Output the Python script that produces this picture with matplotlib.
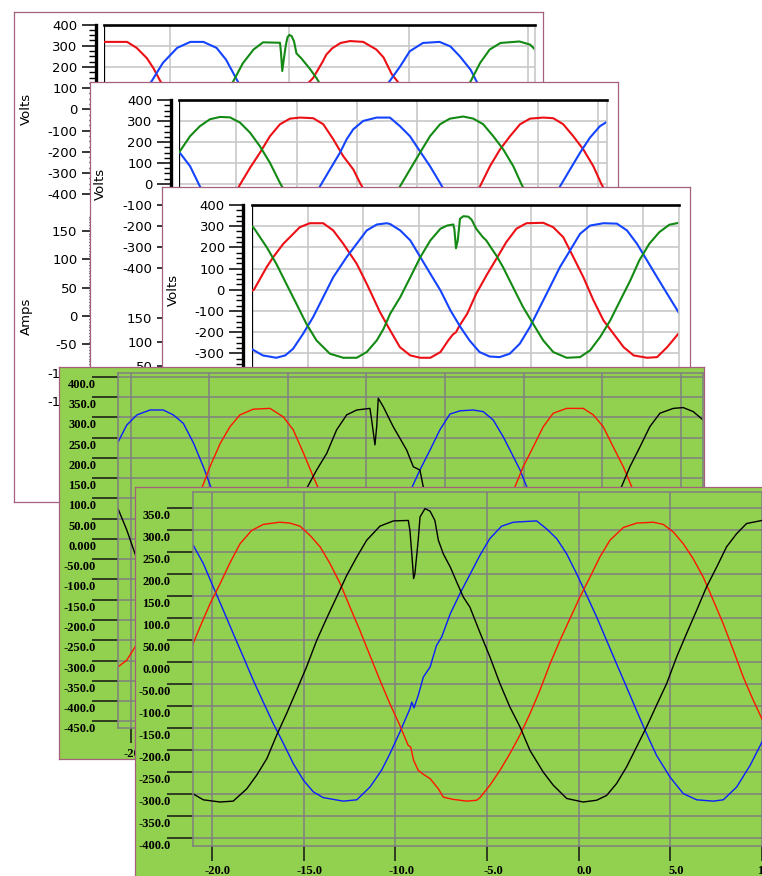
import numpy as np
import matplotlib.pyplot as plt
import matplotlib.transforms as mtransforms
from matplotlib.ticker import MultipleLocator, FuncFormatter

plt.rcParams['axes.unicode_minus'] = False

W, H, DPI = 762, 876, 100

# ---- white recorder windows: (time ms, volts) ----
A_RED = [(4.49, 318), (6.4, 318), (7.2, 290), (8.05, 242), (8.6, 195), (9.2, 132), (10.5, 30),
         (12.0, -90), (13.5, -200), (14.8, -290), (16.0, -318), (17.4, -318), (18.2, -255),
         (19.2, -140), (20.2, 0), (21.0, 85), (21.7, 131), (22.0, 148), (22.8, 225), (23.1, 258),
         (23.6, 288), (24.3, 313), (25.1, 322), (26.2, 318), (27.3, 282), (27.9, 245), (28.6, 165),
         (29.1, 130), (30.0, 45), (31.0, -60), (32.0, -160), (33.0, -250), (34.0, -305),
         (35.5, -320), (37.0, -300), (38.0, -230), (39.0, -140), (40.0, -30), (40.6, 25)]
A_BLUE = [(4.49, -205), (5.5, -129), (6.5, -30), (7.4, 60), (8.45, 132), (9.4, 219), (10.6, 290),
          (11.7, 318), (12.8, 318), (13.9, 290), (14.7, 234), (15.6, 140), (16.5, 50), (17.5, -60),
          (18.5, -160), (19.5, -240), (20.5, -295), (21.5, -318), (22.5, -316), (23.5, -290),
          (24.5, -220), (25.5, -120), (26.5, -20), (27.5, 70), (28.4, 132), (29.3, 203),
          (30.1, 274), (31.2, 313), (32.6, 318), (33.5, 297), (34.3, 250), (35.2, 187),
          (35.7, 132), (36.6, 40), (37.6, -60), (38.6, -160), (39.6, -240), (40.6, -290)]
A_GREEN = [(4.49, -115), (5.8, -239), (7.0, -302), (8.5, -321), (9.8, -310), (11.0, -250),
           (12.0, -170), (13.0, -80), (14.0, 15), (14.6, 75), (15.3, 132), (16.1, 217),
           (17.0, 282), (17.8, 316), (19.22, 314), (19.3, 270), (19.41, 181), (19.55, 240),
           (19.7, 300), (19.85, 340), (20.0, 351), (20.2, 345), (20.4, 320), (20.6, 264),
           (21.0, 241), (21.7, 193), (22.3, 146), (23.2, 60), (24.2, -40), (25.2, -140),
           (26.2, -230), (27.2, -290), (28.2, -318), (29.5, -315), (30.5, -270), (31.5, -190),
           (32.5, -100), (33.5, -20), (34.4, 60), (35.2, 132), (36.0, 219), (36.8, 282),
           (37.7, 313), (39.3, 320), (40.2, 305), (40.6, 282)]

B_RED = [(0.28, -318), (1.5, -310), (2.5, -270), (3.5, -190), (4.4, -100), (5.31, -3), (6.14, 77),
         (6.96, 149), (7.79, 228), (8.62, 285), (9.45, 312), (10.28, 317), (11.38, 314),
         (12.21, 285), (13.04, 213), (13.87, 132), (14.7, 69), (15.25, 5), (16.2, -90),
         (17.2, -190), (18.2, -270), (19.2, -312), (20.3, -322), (21.5, -310), (22.5, -260),
         (23.5, -180), (24.4, -90), (25.19, -12), (26.02, 85), (26.85, 165), (27.68, 228),
         (28.51, 285), (29.34, 312), (30.44, 317), (31.26, 314), (32.09, 285), (32.92, 228),
         (33.75, 165), (34.58, 85), (35.27, -3), (35.69, -45)]
B_BLUE = [(0.28, 152), (1.17, 85), (1.99, -12), (2.9, -100), (3.9, -190), (4.9, -265),
          (5.9, -310), (7.0, -322), (8.2, -310), (9.2, -260), (10.2, -180), (11.1, -95),
          (11.93, -12), (12.76, 69), (13.59, 149), (14.14, 213), (14.69, 261), (15.52, 301),
          (16.63, 317), (17.73, 317), (18.56, 276), (19.39, 228), (20.22, 156), (21.05, 85),
          (21.88, 5), (22.8, -90), (23.8, -190), (24.8, -265), (25.8, -310), (27.0, -322),
          (28.2, -310), (29.2, -260), (30.2, -180), (31.1, -95), (31.82, -12), (32.65, 69),
          (33.48, 149), (34.3, 221), (35.13, 276), (35.69, 296)]
B_GREEN = [(0.28, 152), (1.17, 228), (1.99, 276), (2.82, 309), (3.65, 320), (4.48, 318),
           (5.31, 293), (6.14, 245), (6.96, 180), (7.79, 101), (8.62, 5), (9.5, -85),
           (10.5, -180), (11.5, -260), (12.5, -310), (13.7, -322), (15.0, -310), (16.0, -260),
           (17.0, -170), (18.0, -70), (18.56, -12), (19.39, 69), (20.22, 149), (21.05, 228),
           (21.88, 285), (22.7, 312), (23.8, 322), (24.64, 312), (25.46, 285), (26.29, 228),
           (27.12, 165), (27.95, 85), (28.64, -3), (29.5, -95), (30.5, -190), (31.5, -270),
           (32.5, -312), (33.7, -322), (35.0, -300), (35.69, -265)]

C_RED = [(0.0, -5), (0.2, 0), (1.34, 107), (1.93, 154), (2.83, 217), (3.72, 264), (4.3, 295),
         (5.2, 314), (6.4, 314), (7.3, 280), (8.2, 217), (9.4, 123), (10.3, 28), (11.48, -105),
         (12.4, -192), (13.27, -271), (14.2, -310), (15.1, -321), (16.0, -321), (16.9, -294),
         (17.6, -239), (18.0, -212), (18.3, -200), (18.6, -170), (19.3, -113), (20.1, -19),
         (21.1, 75), (22.0, 154), (22.8, 225), (23.7, 288), (24.6, 314), (26.1, 316), (27.0, 295),
         (27.9, 248), (28.8, 154), (29.7, 59), (30.6, -50), (31.5, -145), (32.4, -208),
         (33.3, -271), (34.2, -310), (35.4, -321), (36.3, -318), (37.2, -271), (38.26, -204)]
C_BLUE = [(0.0, -280), (0.2, -286), (1.0, -310), (2.2, -321), (3.0, -310), (3.7, -279),
          (4.6, -208), (5.5, -129), (6.4, -35), (7.3, 59), (8.5, 154), (9.4, 217), (10.3, 280),
          (11.2, 308), (12.1, 314), (12.4, 310), (13.3, 280), (14.2, 233), (15.1, 154),
          (16.0, 75), (16.9, -3), (17.8, -98), (18.7, -177), (19.5, -239), (20.4, -294),
          (21.3, -315), (22.2, -318), (23.1, -302), (24.0, -255), (24.9, -177), (25.8, -82),
          (26.7, 12), (27.6, 107), (28.5, 185), (29.4, 264), (30.3, 303), (31.5, 314),
          (32.7, 312), (33.6, 280), (34.5, 217), (35.4, 138), (36.3, 59), (37.2, -19),
          (38.26, -110)]
C_GREEN = [(0.0, 300), (0.2, 291), (1.34, 201), (2.2, 123), (3.1, 28), (4.0, -66), (4.9, -161),
           (5.8, -239), (7.0, -302), (8.2, -321), (9.4, -321), (10.3, -294), (11.2, -239),
           (11.8, -185), (12.4, -113), (13.3, -35), (14.2, 59), (15.1, 154), (16.0, 233),
           (16.9, 288), (17.5, 303), (18.05, 308), (18.15, 285), (18.29, 196), (18.45, 233),
           (18.65, 335), (18.95, 347), (19.4, 345), (19.7, 330), (20.1, 288), (20.7, 248),
           (21.0, 233), (21.6, 185), (21.9, 162), (22.5, 107), (23.4, 12), (24.3, -82),
           (25.2, -161), (26.1, -239), (27.0, -294), (28.2, -321), (29.4, -318), (30.3, -286),
           (31.2, -223), (32.1, -145), (33.0, -50), (33.9, 44), (34.7, 138), (35.6, 217),
           (36.5, 272), (37.4, 307), (38.26, 316)]

# ---- green recorder windows: (time ms, volts) ----
D_RED = [(-20.79, -315), (-20.25, -299), (-19.72, -266), (-18.8, -200), (-17.8, -100),
         (-16.8, 0), (-15.9, 85), (-15.48, 125), (-14.96, 178), (-14.3, 236), (-13.68, 277),
         (-13.05, 306), (-12.2, 320), (-11.14, 322), (-10.29, 301), (-9.66, 269), (-9.0, 211),
         (-8.38, 153), (-8.06, 125), (-7.3, 40), (-6.3, -60), (-5.3, -160), (-4.3, -240),
         (-3.3, -295), (-2.2, -320), (-1.0, -315), (0.0, -270), (1.0, -190), (2.0, -100),
         (3.0, -10), (3.8, 70), (4.45, 129), (4.97, 178), (5.61, 227), (6.25, 277), (6.88, 310),
         (7.74, 322), (8.79, 322), (9.43, 306), (10.06, 277), (10.7, 227), (11.34, 178),
         (11.87, 129), (12.8, 30), (13.8, -70), (14.8, -170), (15.8, -250), (16.43, -290)]
D_BLUE = [(-20.79, 240), (-20.25, 281), (-19.6, 306), (-18.77, 318), (-17.93, 318), (-17.29, 306),
          (-16.65, 285), (-16.0, 236), (-15.38, 178), (-14.95, 133), (-14.3, 70), (-13.6, 0),
          (-12.6, -100), (-11.6, -190), (-10.6, -265), (-9.6, -310), (-8.5, -320), (-7.4, -305),
          (-6.4, -250), (-5.4, -170), (-4.4, -80), (-3.3, 10), (-2.13, 125), (-1.6, 170),
          (-0.96, 219), (-0.33, 269), (0.31, 308), (0.95, 316), (1.79, 318), (2.43, 314),
          (3.07, 293), (3.7, 252), (4.24, 211), (4.77, 170), (5.19, 129), (6.2, 30), (7.2, -70),
          (8.2, -170), (9.2, -250), (10.2, -300), (11.5, -320), (12.7, -305), (13.7, -250),
          (14.7, -170), (15.7, -70), (16.43, 10)]
D_BLACK = [(-20.79, 73), (-20.25, 22), (-19.73, -36), (-18.8, -130), (-17.8, -220), (-16.8, -290),
           (-15.6, -320), (-14.4, -315), (-13.4, -270), (-12.4, -190), (-11.4, -100), (-10.4, 0),
           (-9.5, 80), (-8.8, 125), (-8.17, 170), (-7.53, 211), (-6.9, 269), (-6.26, 306),
           (-5.62, 318), (-4.78, 322), (-4.67, 293), (-4.46, 232), (-4.35, 277), (-4.25, 347),
           (-3.93, 326), (-3.61, 301), (-3.3, 277), (-2.87, 248), (-2.44, 219), (-2.02, 178),
           (-1.6, 170), (-1.39, 129), (-0.6, 50), (0.4, -50), (1.4, -150), (2.4, -240),
           (3.4, -300), (4.5, -320), (5.6, -310), (6.6, -260), (7.6, -180), (8.6, -90), (9.6, 0),
           (10.5, 80), (11.23, 129), (11.76, 178), (12.4, 227), (13.03, 277), (13.67, 310),
           (14.52, 322), (15.15, 324), (15.79, 314), (16.43, 293)]

E_RED = [(-21.05, 39), (-20.65, 79), (-20.1, 132), (-19.56, 177), (-19.0, 226), (-18.47, 268),
         (-17.84, 298), (-17.2, 312), (-16.3, 317), (-15.75, 315), (-15.2, 308), (-14.65, 287),
         (-14.1, 261), (-13.56, 223), (-13.0, 177), (-12.47, 124), (-11.93, 71), (-11.38, 14),
         (-10.84, -42), (-10.3, -95), (-9.75, -145), (-9.3, -190), (-9.16, -194), (-9.0, -224),
         (-8.75, -247), (-8.47, -256), (-8.1, -266), (-7.65, -289), (-7.38, -308), (-6.84, -313),
         (-6.1, -317), (-5.56, -315), (-5.38, -309), (-4.84, -281), (-4.29, -247), (-3.75, -209),
         (-3.2, -167), (-2.65, -118), (-2.11, -65), (-1.56, -5), (-1.02, 48), (-0.47, 98),
         (0.07, 147), (0.62, 192), (1.16, 238), (1.71, 276), (2.44, 305), (3.17, 315),
         (4.07, 317), (4.62, 312), (5.16, 295), (5.71, 268), (6.25, 234), (6.8, 192), (7.35, 139),
         (7.89, 86), (8.44, 26), (8.98, -35), (9.53, -88), (10.0, -130), (10.5, -170)]
E_BLUE = [(-21.05, 267), (-20.47, 223), (-19.93, 170), (-19.38, 117), (-18.84, 64), (-18.29, 11),
          (-17.75, -42), (-17.2, -92), (-16.65, -141), (-16.1, -186), (-15.56, -232),
          (-15.0, -270), (-14.47, -296), (-13.93, -309), (-12.84, -317), (-12.1, -314),
          (-11.38, -285), (-10.75, -247), (-10.29, -209), (-9.75, -160), (-9.2, -107),
          (-9.1, -92), (-8.98, -105), (-8.75, -77), (-8.47, -35), (-8.1, -12), (-7.75, 37),
          (-7.47, 56), (-7.0, 109), (-6.47, 155), (-5.93, 198), (-5.38, 242), (-4.84, 280),
          (-4.2, 308), (-3.56, 317), (-2.29, 320), (-1.75, 302), (-1.2, 280), (-0.65, 245),
          (-0.11, 200), (0.44, 151), (0.98, 102), (1.53, 48), (2.07, -5), (2.62, -58),
          (3.16, -111), (3.71, -164), (4.25, -213), (4.98, -262), (5.71, -300), (6.44, -314),
          (7.35, -317), (7.89, -314), (8.62, -285), (9.35, -236), (10.0, -183), (10.5, -140)]
E_BLACK = [(-21.05, -300), (-20.47, -314), (-19.56, -319), (-18.84, -317), (-18.1, -289),
           (-17.56, -258), (-17.0, -220), (-16.47, -167), (-15.93, -118), (-15.38, -65),
           (-14.84, -12), (-14.29, 48), (-13.75, 98), (-13.2, 147), (-12.65, 196), (-12.1, 238),
           (-11.56, 276), (-10.84, 308), (-10.1, 320), (-9.29, 321), (-9.2, 298), (-9.1, 245),
           (-9.0, 189), (-8.93, 200), (-8.75, 276), (-8.65, 329), (-8.38, 348), (-8.1, 342),
           (-7.84, 321), (-7.65, 276), (-7.38, 245), (-7.0, 215), (-6.65, 181), (-6.29, 147),
           (-5.93, 124), (-5.38, 66), (-4.84, 11), (-4.29, -50), (-3.75, -103), (-3.2, -148),
           (-2.65, -202), (-1.93, -251), (-1.38, -281), (-0.65, -311), (0.25, -319),
           (0.98, -315), (1.53, -304), (2.07, -277), (2.62, -239), (3.16, -194), (3.71, -148),
           (4.25, -99), (4.8, -50), (5.35, 11), (5.89, 64), (6.44, 117), (6.98, 170),
           (7.53, 215), (8.07, 261), (8.62, 291), (9.16, 314), (10.0, 321), (10.5, 321)]

# ---- styling ----
RED_W, BLUE_W, GREEN_W = '#ec1016', '#1444ff', '#138a13'
RED_G, BLUE_G, BLACK_G = '#ff1500', '#0a1eff', '#000000'
GREEN_BG = '#92d050'
BORDER = '#a5607f'
GRID_W = '#c8c8c8'
GRID_G = '#7f7f7f'

fig = plt.figure(figsize=(W / DPI, H / DPI), dpi=DPI)
fig.patch.set_facecolor('white')

zcount = [0]


def rect(x0, y0, x1, y1):
    return [x0 / W, 1 - y1 / H, (x1 - x0) / W, (y1 - y0) / H]


def new_axes(x0, y0, x1, y1):
    zcount[0] += 1
    return fig.add_axes(rect(x0, y0, x1, y1), zorder=zcount[0])


def panel(x0, y0, x1, y1, face):
    ax = new_axes(x0, y0, x1, y1)
    ax.set_facecolor(face)
    ax.set_xticks([])
    ax.set_yticks([])
    for s in ax.spines.values():
        s.set_color(BORDER)
        s.set_linewidth(0.9)
    return ax


def unzip(pts):
    arr = np.array(pts, dtype=float)
    return arr[:, 0], arr[:, 1]


def white_axis(ax, major, minor, label, label_px, left_px, width_px):
    ax.set_facecolor('none')
    ax.yaxis.set_major_locator(MultipleLocator(major))
    ax.yaxis.set_minor_locator(MultipleLocator(minor))
    ax.tick_params(axis='x', which='both', length=0, labelbottom=False)
    ax.tick_params(axis='y', which='major', direction='out', length=9.9, width=1.1,
                   pad=3.4, labelsize=9.5, colors='k')
    ax.tick_params(axis='y', which='minor', direction='out', length=4.8, width=1.0)
    ax.spines['left'].set_position(('outward', 6.1))
    ax.spines['left'].set_linewidth(2.4)
    ax.spines['bottom'].set_visible(False)
    ax.text((label_px - left_px) / width_px, 0.5, label, rotation=90, ha='center',
            va='center', transform=ax.transAxes, fontsize=9.5)


def white_chart(panel_px, volts_px, amps_px, xlim, xgrid, curves, label_px):
    panel(*panel_px, 'white')
    x0, y0, x1, y1 = volts_px
    ax = new_axes(*volts_px)
    ax.set_xlim(xlim)
    ax.set_ylim(-400, 400)
    ax.xaxis.set_major_locator(MultipleLocator(xgrid))
    white_axis(ax, 100, 25, 'Volts', label_px, x0, x1 - x0)
    ax.grid(True, which='major', color=GRID_W, lw=1.2)
    ax.spines['top'].set_linewidth(1.9)
    ax.spines['top'].set_color('k')
    ax.spines['right'].set_color(GRID_W)
    ax.spines['right'].set_linewidth(1.2)
    ax.plot([0, 0], [0, 1], transform=ax.transAxes, color='k', lw=0.9)
    for pts, col in curves:
        t, v = unzip(pts)
        ax.plot(t, v, color=col, lw=1.5, solid_joinstyle='round')
    if amps_px is not None:
        am = new_axes(*amps_px)
        am.set_ylim(-175, 175)
        white_axis(am, 50, 5, 'Amps', label_px, x0, x1 - x0)
        for side in ('top', 'right'):
            am.spines[side].set_visible(False)


def green_fmt(v, pos):
    if abs(v) >= 100:
        return f'{v:.1f}'
    if abs(v) >= 10:
        return f'{v:.2f}'
    return f'{v:.3f}'


def green_chart(panel_px, plot_px, xlim, ylim, xticks, yticks, curves):
    panel(*panel_px, GREEN_BG)
    ax = new_axes(*plot_px)
    ax.set_facecolor('none')
    ax.set_xlim(xlim)
    ax.set_ylim(ylim)
    ax.set_xticks(xticks)
    ax.set_yticks(yticks)
    ax.xaxis.set_major_formatter(FuncFormatter(lambda v, p: f'{v:.1f}'))
    ax.yaxis.set_major_formatter(FuncFormatter(green_fmt))
    ax.grid(True, color=GRID_G, lw=1.1)
    for s in ax.spines.values():
        s.set_color(GRID_G)
        s.set_linewidth(1.1)
    ax.tick_params(axis='y', direction='out', length=19, width=1.1, color='#141414',
                   pad=-3.0, labelsize=9)
    ax.tick_params(axis='x', direction='out', length=11, width=1.1, color='#141414',
                   pad=3.0, labelsize=9)
    down = mtransforms.ScaledTranslation(0, -6.5 / DPI, fig.dpi_scale_trans)
    right = mtransforms.ScaledTranslation(6 / DPI, 0, fig.dpi_scale_trans)
    for lab in ax.get_yticklabels():
        lab.set_fontfamily('Liberation Serif')
        lab.set_fontweight('bold')
        lab.set_transform(lab.get_transform() + down)
    for lab in ax.get_xticklabels():
        lab.set_fontfamily('Liberation Serif')
        lab.set_fontweight('bold')
        lab.set_transform(lab.get_transform() + right)
    for pts, col in curves:
        t, v = unzip(pts)
        ax.plot(t, v, color=col, lw=1.0)


# window A
white_chart((14.3, 11.7, 543.3, 502.3), (104.3, 24.5, 535, 194.3), (104.3, 216.6, 535, 415.4),
            (4.49, 40.6), 10, [(A_RED, RED_W), (A_BLUE, BLUE_W), (A_GREEN, GREEN_W)], 26)
# window B
white_chart((90, 81.7, 618.3, 480), (179.3, 100.2, 606.7, 267.7), (179.3, 306.5, 606.7, 472.3),
            (0.28, 35.69), 5, [(B_RED, RED_W), (B_BLUE, BLUE_W), (B_GREEN, GREEN_W)], 100)
# window C
white_chart((161.7, 186.7, 690.3, 480), (251.7, 205, 679, 374.5), None,
            (0.0, 38.26), 5, [(C_RED, RED_W), (C_BLUE, BLUE_W), (C_GREEN, GREEN_W)], 173)
# window D
green_chart((59.3, 366.7, 704.3, 759.3), (118.3, 372.7, 703.3, 728.3), (-20.79, 16.43),
            (-467, 410), np.arange(-20, 16, 5), np.arange(-450, 401, 50),
            [(D_BLUE, BLUE_G), (D_RED, RED_G), (D_BLACK, BLACK_G)])
# window E
green_chart((134.5, 486.8, 800, 900), (192.7, 492.3, 790, 846), (-21.05, 11.53),
            (-419, 385), np.arange(-20, 11, 5), np.arange(-400, 351, 50),
            [(E_BLUE, BLUE_G), (E_RED, RED_G), (E_BLACK, BLACK_G)])

fig.savefig('out.png', dpi=DPI)
